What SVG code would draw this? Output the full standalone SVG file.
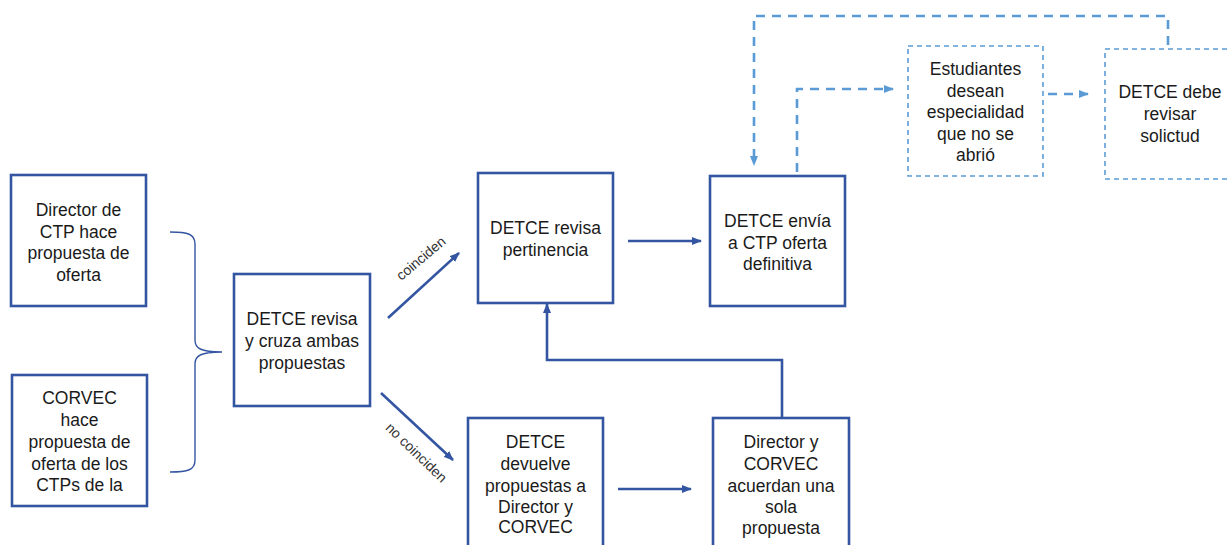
<svg xmlns="http://www.w3.org/2000/svg" width="1230" height="545" viewBox="0 0 1230 545">
<style>
.box{fill:#fff;stroke:#3456a2;stroke-width:2.6}
.dbox{fill:#fff;stroke:#5b9bd5;stroke-width:1.6;stroke-dasharray:5 4}
.t{font-family:"Liberation Sans",Arial,sans-serif;font-size:17.5px;fill:#1a1a1a;text-anchor:middle}
.lbl{font-family:"Liberation Sans",Arial,sans-serif;font-size:14px;fill:#333;text-anchor:middle}
.c{fill:none;stroke:#3456a2;stroke-width:2.6}
.dc{fill:none;stroke:#5b9bd5;stroke-width:2.6;stroke-dasharray:9 7}
.br{fill:none;stroke:#3456a2;stroke-width:1.4}
</style>
<defs>
<marker id="a" markerWidth="10" markerHeight="8" refX="9" refY="4" orient="auto" markerUnits="userSpaceOnUse">
<path d="M0,0 L10,4 L0,8 Z" fill="#3456a2"/>
</marker>
<marker id="da" markerWidth="10" markerHeight="8" refX="9" refY="4" orient="auto" markerUnits="userSpaceOnUse">
<path d="M0,0 L10,4 L0,8 Z" fill="#5b9bd5"/>
</marker>
</defs>
<rect width="1230" height="545" fill="#fff"/>

<g id="connectors">
<path class="br" d="M170,232 C188,232 195,234 195,244 L195,340 C195,348 200,352 222,352 C200,352 195,356 195,364 L195,460 C195,470 188,472 170,472"/>
<line class="c" x1="388" y1="318" x2="459" y2="253" marker-end="url(#a)"/>
<line class="c" x1="381" y1="393" x2="453" y2="460" marker-end="url(#a)"/>
<line class="c" x1="628" y1="241" x2="701" y2="241" marker-end="url(#a)"/>
<line class="c" x1="618" y1="489" x2="691" y2="489" marker-end="url(#a)"/>
<polyline class="c" points="782,418 782,360 547,360 547,304" marker-end="url(#a)"/>
<polyline class="dc" points="797,172 797,89 893,89" marker-end="url(#da)"/>
<line class="dc" x1="1048" y1="94" x2="1088" y2="94" marker-end="url(#da)"/>
<polyline class="dc" points="1168,45 1168,16 754,16 754,165" marker-end="url(#da)"/>
<text class="lbl" transform="translate(424,262) rotate(-40)">coinciden</text>
<text class="lbl" transform="translate(413,456) rotate(44)">no coinciden</text>
</g>

<g id="n1">
<rect class="box" x="11" y="175" width="135" height="131"/>
<text class="t" x="78.5" y="216">Director de</text>
<text class="t" x="78.5" y="238">CTP hace</text>
<text class="t" x="78.5" y="259">propuesta de</text>
<text class="t" x="78.5" y="281">oferta</text>
</g>

<g id="n2">
<rect class="box" x="12" y="375" width="135" height="131"/>
<text class="t" x="79.5" y="404">CORVEC</text>
<text class="t" x="79.5" y="426">hace</text>
<text class="t" x="79.5" y="448">propuesta de</text>
<text class="t" x="79.5" y="470">oferta de los</text>
<text class="t" x="79.5" y="491">CTPs de la</text>
</g>

<g id="n3">
<rect class="box" x="234" y="274" width="136" height="132"/>
<text class="t" x="302" y="325">DETCE revisa</text>
<text class="t" x="302" y="347">y cruza ambas</text>
<text class="t" x="302" y="369">propuestas</text>
</g>

<g id="n4">
<rect class="box" x="478" y="173" width="135" height="130"/>
<text class="t" x="545.5" y="234">DETCE revisa</text>
<text class="t" x="545.5" y="256">pertinencia</text>
</g>

<g id="n5">
<rect class="box" x="710" y="176" width="135" height="130"/>
<text class="t" x="777.5" y="227">DETCE envía</text>
<text class="t" x="777.5" y="249">a CTP oferta</text>
<text class="t" x="777.5" y="270">definitiva</text>
</g>

<g id="n6">
<rect class="box" x="468" y="418" width="135" height="150"/>
<text class="t" x="535.5" y="448">DETCE</text>
<text class="t" x="535.5" y="470">devuelve</text>
<text class="t" x="535.5" y="492">propuestas a</text>
<text class="t" x="535.5" y="513">Director y</text>
<text class="t" x="535.5" y="533">CORVEC</text>
</g>

<g id="n7">
<rect class="box" x="713" y="418" width="136" height="150"/>
<text class="t" x="781" y="448">Director y</text>
<text class="t" x="781" y="470">CORVEC</text>
<text class="t" x="781" y="492">acuerdan una</text>
<text class="t" x="781" y="513">sola</text>
<text class="t" x="781" y="534">propuesta</text>
</g>

<g id="n8">
<rect class="dbox" x="908" y="46" width="135" height="130"/>
<text class="t" x="975.5" y="75">Estudiantes</text>
<text class="t" x="975.5" y="97">desean</text>
<text class="t" x="975.5" y="118">especialidad</text>
<text class="t" x="975.5" y="140">que no se</text>
<text class="t" x="975.5" y="161">abrió</text>
</g>

<g id="n9">
<rect class="dbox" x="1105" y="49" width="140" height="130"/>
<text class="t" x="1170" y="98">DETCE debe</text>
<text class="t" x="1170" y="120">revisar</text>
<text class="t" x="1170" y="142">solictud</text>
</g>
</svg>
